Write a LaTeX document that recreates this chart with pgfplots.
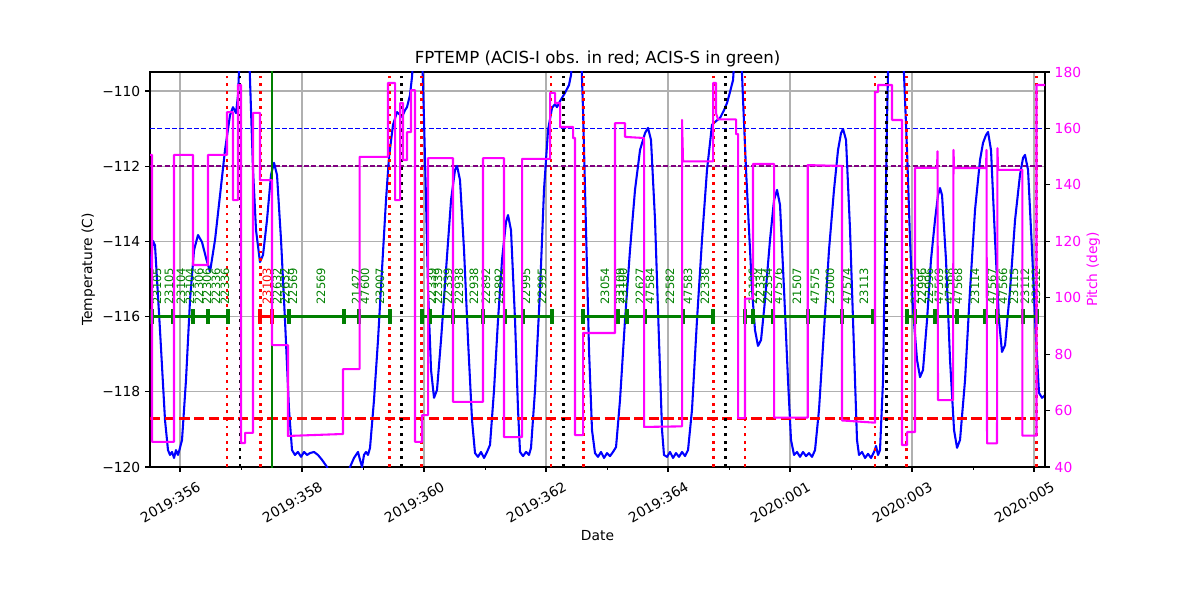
\documentclass[border=0pt]{standalone}
\usepackage{fontspec}
\setmainfont{DejaVu Sans}
\usepackage{pgfplots}
\pgfplotsset{compat=1.18}
\definecolor{mplgreen}{rgb}{0,0.5,0}
\definecolor{mplpurple}{rgb}{0.5,0,0.5}
\definecolor{mplmagenta}{rgb}{1,0,1}
\definecolor{mplblue}{rgb}{0,0,1}
\definecolor{mplred}{rgb}{1,0,0}
\definecolor{gridgray}{HTML}{B0B0B0}

\pgfplotstableread{
d T
355.508 -114.71
355.557 -113.99
355.590 -114.10
355.672 -116.36
355.754 -118.75
355.803 -119.55
355.836 -119.68
355.869 -119.60
355.902 -119.76
355.934 -119.55
355.967 -119.68
356.000 -119.49
356.033 -119.28
356.098 -117.69
356.164 -115.56
356.230 -114.23
356.295 -113.83
356.361 -114.02
356.426 -114.44
356.492 -114.81
356.574 -113.96
356.656 -112.77
356.738 -111.57
356.820 -110.64
356.869 -110.43
356.918 -110.59
356.951 -110.11
356.967 -109.49
356.984 -108.9
357.131 -108.9
357.164 -110.51
357.197 -112.10
357.246 -113.70
357.311 -114.55
357.361 -114.36
357.426 -113.43
357.492 -112.23
357.541 -111.91
357.590 -112.23
357.656 -113.96
357.721 -116.09
357.787 -118.48
357.836 -119.55
357.885 -119.68
357.934 -119.60
357.984 -119.73
358.033 -119.60
358.082 -119.68
358.131 -119.63
358.197 -119.60
358.262 -119.68
358.328 -119.81
358.410 -120.00
358.475 -120.35
358.721 -120.35
358.787 -120.00
358.852 -119.76
358.918 -119.60
358.951 -119.81
358.984 -120.00
359.016 -119.68
359.049 -119.60
359.082 -119.68
359.115 -119.49
359.180 -118.22
359.246 -116.62
359.311 -114.76
359.377 -112.90
359.426 -111.76
359.492 -110.90
359.557 -110.56
359.607 -110.64
359.639 -110.69
359.689 -110.51
359.721 -110.43
359.770 -110.11
359.803 -109.63
359.836 -108.9
359.967 -108.9
360.000 -110.77
360.033 -112.90
360.066 -115.29
360.115 -117.42
360.164 -118.16
360.213 -117.95
360.279 -116.62
360.361 -114.76
360.443 -112.90
360.508 -112.10
360.541 -111.99
360.590 -112.37
360.656 -114.23
360.721 -116.62
360.787 -118.75
360.836 -119.63
360.885 -119.73
360.934 -119.60
360.984 -119.76
361.033 -119.60
361.082 -119.41
361.148 -117.95
361.213 -116.09
361.279 -114.49
361.344 -113.48
361.377 -113.30
361.426 -113.70
361.492 -116.09
361.541 -118.48
361.574 -119.60
361.623 -119.71
361.672 -119.60
361.721 -119.68
361.754 -119.49
361.820 -117.95
361.902 -115.29
361.967 -112.63
362.033 -111.04
362.098 -110.45
362.148 -110.35
362.180 -110.43
362.230 -110.27
362.311 -110.05
362.377 -109.84
362.410 -109.57
362.443 -108.9
362.574 -108.9
362.607 -110.51
362.656 -113.70
362.705 -116.89
362.754 -119.02
362.803 -119.63
362.852 -119.73
362.902 -119.60
362.951 -119.76
363.000 -119.63
363.049 -119.71
363.098 -119.60
363.148 -119.47
363.213 -118.22
363.295 -116.09
363.377 -114.23
363.459 -112.63
363.541 -111.57
363.623 -111.12
363.672 -110.98
363.721 -111.30
363.787 -113.43
363.852 -116.62
363.902 -119.02
363.934 -119.68
363.984 -119.73
364.033 -119.60
364.082 -119.76
364.131 -119.63
364.180 -119.73
364.230 -119.60
364.279 -119.71
364.328 -119.55
364.393 -118.48
364.475 -116.09
364.557 -113.96
364.639 -112.10
364.721 -110.90
364.787 -110.80
364.852 -110.72
364.918 -110.51
364.967 -110.32
365.016 -110.03
365.066 -109.71
365.098 -108.9
365.197 -108.9
365.230 -110.24
365.279 -112.10
365.328 -113.70
365.377 -115.29
365.426 -116.36
365.475 -116.78
365.525 -116.62
365.590 -115.56
365.672 -113.96
365.738 -112.90
365.787 -112.63
365.836 -113.03
365.902 -115.29
365.967 -117.69
366.016 -119.28
366.066 -119.68
366.115 -119.60
366.164 -119.73
366.213 -119.60
366.262 -119.71
366.311 -119.63
366.361 -119.73
366.410 -119.55
366.475 -118.48
366.557 -116.36
366.639 -114.23
366.721 -112.63
366.787 -111.57
366.836 -111.12
366.869 -111.01
366.918 -111.30
366.984 -113.70
367.049 -116.89
367.098 -119.28
367.131 -119.68
367.180 -119.60
367.230 -119.76
367.279 -119.65
367.328 -119.76
367.377 -119.60
367.410 -119.44
367.443 -119.68
367.475 -119.55
367.525 -117.69
367.557 -114.23
367.590 -110.77
367.607 -109.49
367.623 -108.9
367.836 -108.9
367.869 -109.57
367.918 -111.57
367.967 -113.96
368.016 -115.82
368.082 -117.15
368.131 -117.61
368.180 -117.42
368.246 -116.09
368.311 -114.49
368.377 -113.43
368.426 -112.77
368.459 -112.58
368.492 -112.77
368.557 -114.49
368.623 -117.15
368.689 -119.02
368.738 -119.49
368.787 -119.28
368.869 -117.69
368.951 -115.29
369.033 -113.16
369.115 -111.83
369.164 -111.38
369.213 -111.17
369.246 -111.09
369.295 -111.57
369.361 -113.96
369.426 -116.09
369.475 -116.94
369.525 -116.76
369.607 -115.29
369.689 -113.43
369.770 -112.23
369.820 -111.78
369.852 -111.70
369.902 -112.10
369.967 -114.23
370.033 -116.62
370.082 -118.03
370.131 -118.16
370.180 -118.09
}\tempdata

\pgfplotstableread{
d P
355.508 150.6
355.541 150.6
355.541 48.9
355.902 48.9
355.902 150.6
356.213 150.6
356.213 111.6
356.459 111.6
356.459 150.6
356.770 150.6
356.770 165.8
356.869 165.8
356.869 134.6
356.951 134.6
356.951 175.4
357.000 175.4
357.000 48.5
357.066 48.5
357.066 52.1
357.197 52.1
357.197 165.5
357.311 165.5
357.311 141.7
357.508 141.7
357.508 83.2
357.770 83.2
357.770 51.0
358.672 51.7
358.672 74.7
358.943 74.7
358.943 149.9
359.410 149.9
359.410 176.1
359.525 176.1
359.525 134.6
359.607 134.6
359.607 169.0
359.656 169.0
359.656 148.8
359.721 148.8
359.721 158.7
359.787 158.7
359.787 173.6
359.852 173.6
359.852 48.9
359.967 48.9
359.967 58.4
360.066 58.4
360.066 149.5
360.475 149.5
360.475 63.1
360.967 63.1
360.967 149.5
361.311 149.5
361.311 50.6
361.607 50.6
361.607 149.2
362.066 149.2
362.066 172.6
362.148 172.6
362.148 169.0
362.230 169.0
362.230 160.5
362.443 160.5
362.443 156.6
362.475 156.6
362.475 51.3
362.607 51.3
362.607 87.5
363.131 87.5
363.131 161.9
363.295 161.9
363.295 157.0
363.607 156.6
363.607 54.2
364.230 54.4
364.230 163.0
364.246 148.3
364.738 148.3
364.738 176.1
364.787 176.1
364.787 165.4
364.820 163.2
365.115 163.2
365.115 158.0
365.148 158.0
365.148 57.3
365.262 57.3
365.262 99.7
365.393 99.7
365.393 147.4
365.738 147.4
365.738 57.5
366.290 57.5
366.290 147.0
366.852 146.7
366.852 56.5
367.393 55.7
367.393 172.9
367.443 172.9
367.443 175.4
367.672 175.4
367.672 163.0
367.836 163.0
367.836 47.8
367.918 47.8
367.918 52.4
368.049 52.4
368.049 146.0
368.410 146.0
368.418 151.9
368.426 63.7
368.672 63.7
368.680 152.4
368.689 145.9
369.213 145.9
369.221 152.4
369.230 48.4
369.393 48.4
369.401 153.0
369.410 145.3
369.810 145.3
369.810 51.1
370.041 51.1
370.041 175.4
370.180 175.4
}\pitchdata

\begin{document}
\begin{tikzpicture}[font=\fontsize{10}{12}\selectfont,
  obs/.style={rotate=90, anchor=west, inner sep=0pt, text=mplgreen, font=\fontsize{8.33}{10}\selectfont},
  vdot/.style={line width=2.1pt, dash pattern=on 2.1pt off 3.4pt}]
\begin{axis}[
  scale only axis, width=8.95in, height=3.95in,
  at={(0,0)}, anchor=south west, clip mode=individual,
  xmin=355.508, xmax=370.180, ymin=-120, ymax=-109.495,
  xtick={356,358,360,362,364,366,368,370},
  xticklabels={2019:356,2019:358,2019:360,2019:362,2019:364,2020:001,2020:003,2020:005},
  minor xtick={357,359,361,363,365,367,369},
  ytick={-120,-118,-116,-114,-112,-110},
  yticklabels={−120,−118,−116,−114,−112,−110},
  xtick pos=left, ytick pos=left,
  tick align=outside,
  major tick length=3.5pt, minor tick length=2pt,
  major tick style={black, line width=0.8pt},
  minor tick style={black, line width=0.6pt},
  xmajorgrids, ymajorgrids,
  major grid style={gridgray, line width=0.8pt},
  axis line style={line width=0.8pt},
  xticklabel style={xshift=-7pt, yshift=-22pt, rotate=30, anchor=center},
]
\addplot[mplblue, line width=1pt, dash pattern=on 3.7pt off 1.6pt] coordinates {(355.508,-111) (370.180,-111)};
\addplot[mplpurple, line width=1pt, dash pattern=on 3.7pt off 1.6pt] coordinates {(355.508,-112) (370.180,-112)};
\addplot[mplblue, line width=1.5pt, line join=round] table[x=d, y=T] {\tempdata};
\addplot[mplred, line width=2pt, dash pattern=on 7.4pt off 3.2pt] coordinates {(355.508,-118.72) (370.180,-118.72)};
% radiation zone boundaries
\addplot[mplred, vdot] coordinates {(356.770,-121) (356.770,-109)};
\addplot[mplred, vdot] coordinates {(357.322,-121) (357.322,-109)};
\addplot[mplred, vdot] coordinates {(359.431,-121) (359.431,-109)};
\addplot[mplred, vdot] coordinates {(359.962,-121) (359.962,-109)};
\addplot[mplred, vdot] coordinates {(362.082,-121) (362.082,-109)};
\addplot[mplred, vdot] coordinates {(362.607,-121) (362.607,-109)};
\addplot[mplred, vdot] coordinates {(364.743,-121) (364.743,-109)};
\addplot[mplred, vdot] coordinates {(365.262,-121) (365.262,-109)};
\addplot[mplred, vdot] coordinates {(367.393,-121) (367.393,-109)};
\addplot[mplred, vdot] coordinates {(367.913,-121) (367.913,-109)};
\addplot[mplred, vdot] coordinates {(370.044,-121) (370.044,-109)};
% perigee
\addplot[black, vdot] coordinates {(356.984,-121) (356.984,-109)};
\addplot[black, vdot] coordinates {(359.634,-121) (359.634,-109)};
\addplot[black, vdot] coordinates {(362.284,-121) (362.284,-109)};
\addplot[black, vdot] coordinates {(364.946,-121) (364.946,-109)};
\addplot[black, vdot] coordinates {(367.585,-121) (367.585,-109)};
\addplot[mplgreen, line width=2pt] coordinates {(357.508,-121) (357.508,-109)};
% observations
\addplot[mplgreen, line width=2pt] coordinates {(355.541,-116) (356.787,-116)};
\addplot[mplgreen, line width=2pt] coordinates {(357.508,-116) (359.443,-116)};
\addplot[mplgreen, line width=2pt] coordinates {(359.951,-116) (362.082,-116)};
\addplot[mplgreen, line width=2pt] coordinates {(362.607,-116) (364.738,-116)};
\addplot[mplgreen, line width=2pt] coordinates {(365.262,-116) (367.393,-116)};
\addplot[mplgreen, line width=2pt] coordinates {(367.902,-116) (370.066,-116)};
\addplot[mplred, line width=2pt] coordinates {(357.311,-116) (357.508,-116)};
\addplot[only marks, mark=|, mark size=5.4pt, mark options={line width=2.6pt, mplgreen}] coordinates {
(355.541,-116) (355.885,-116) (356.213,-116) (356.459,-116) (356.787,-116)
(357.787,-116) (358.689,-116) (358.934,-116) (359.443,-116) (359.967,-116)
(360.098,-116) (360.475,-116) (360.967,-116) (361.328,-116) (361.623,-116)
(362.098,-116) (362.607,-116) (363.180,-116) (363.328,-116) (363.623,-116)
(364.246,-116) (364.738,-116) (365.262,-116) (365.393,-116) (365.721,-116)
(366.295,-116) (366.852,-116) (367.361,-116) (367.918,-116) (368.049,-116)
(368.377,-116) (368.738,-116) (369.197,-116) (369.393,-116) (369.820,-116)
(370.049,-116)};
\addplot[only marks, mark=|, mark size=5.4pt, mark options={line width=2.6pt, mplred}] coordinates {
(357.311,-116) (357.508,-116)};
% labels
\node[obs] at (axis cs:355.623,-115.69) {23105};
\node[obs] at (axis cs:355.820,-115.69) {23105};
\node[obs] at (axis cs:356.016,-115.69) {23104};
\node[obs] at (axis cs:356.164,-115.69) {23104};
\node[obs] at (axis cs:356.311,-115.69) {22306};
\node[obs] at (axis cs:356.443,-115.69) {22306};
\node[obs] at (axis cs:356.590,-115.69) {22336};
\node[obs] at (axis cs:356.738,-115.69) {22336};
\node[obs, text=mplred] at (axis cs:357.426,-115.69) {23103};
\node[obs] at (axis cs:357.590,-115.69) {22632};
\node[obs] at (axis cs:357.721,-115.69) {22632};
\node[obs] at (axis cs:357.852,-115.69) {22569};
\node[obs] at (axis cs:358.311,-115.69) {22569};
\node[obs] at (axis cs:358.885,-115.69) {21427};
\node[obs] at (axis cs:359.033,-115.69) {47600};
\node[obs] at (axis cs:359.279,-115.69) {23007};
\node[obs] at (axis cs:360.131,-115.69) {22339};
\node[obs] at (axis cs:360.230,-115.69) {22339};
\node[obs] at (axis cs:360.393,-115.69) {22339};
\node[obs] at (axis cs:360.574,-115.69) {22938};
\node[obs] at (axis cs:360.820,-115.69) {22938};
\node[obs] at (axis cs:361.016,-115.69) {22892};
\node[obs] at (axis cs:361.230,-115.69) {22892};
\node[obs] at (axis cs:361.672,-115.69) {22995};
\node[obs] at (axis cs:361.934,-115.69) {22995};
\node[obs] at (axis cs:362.967,-115.69) {23054};
\node[obs] at (axis cs:363.213,-115.69) {23109};
\node[obs] at (axis cs:363.262,-115.69) {23100};
\node[obs] at (axis cs:363.541,-115.69) {22627};
\node[obs] at (axis cs:363.705,-115.69) {47584};
\node[obs] at (axis cs:364.033,-115.69) {22582};
\node[obs] at (axis cs:364.328,-115.69) {47583};
\node[obs] at (axis cs:364.607,-115.69) {22338};
\node[obs] at (axis cs:365.393,-115.69) {22196};
\node[obs] at (axis cs:365.508,-115.69) {22334};
\node[obs] at (axis cs:365.639,-115.69) {22334};
\node[obs] at (axis cs:365.803,-115.69) {47576};
\node[obs] at (axis cs:366.115,-115.69) {21507};
\node[obs] at (axis cs:366.410,-115.69) {47575};
\node[obs] at (axis cs:366.656,-115.69) {23000};
\node[obs] at (axis cs:366.934,-115.69) {47574};
\node[obs] at (axis cs:367.213,-115.69) {23113};
\node[obs] at (axis cs:368.049,-115.69) {23113};
\node[obs] at (axis cs:368.164,-115.69) {22996};
\node[obs] at (axis cs:368.279,-115.69) {22996};
\node[obs] at (axis cs:368.443,-115.69) {47569};
\node[obs] at (axis cs:368.607,-115.69) {47568};
\node[obs] at (axis cs:368.754,-115.69) {47568};
\node[obs] at (axis cs:369.033,-115.69) {23114};
\node[obs] at (axis cs:369.311,-115.69) {47567};
\node[obs] at (axis cs:369.492,-115.69) {47566};
\node[obs] at (axis cs:369.672,-115.69) {23115};
\node[obs] at (axis cs:369.852,-115.69) {23112};
\node[obs] at (axis cs:370.033,-115.69) {23112};
% axis texts
\node[anchor=base, font=\fontsize{12}{14}\selectfont] at (axis description cs:0.5,1.0203) {FPTEMP (ACIS-I obs. in red; ACIS-S in green)};
\node[anchor=base] at (axis description cs:0.5,-0.1873) {Date};
\node[rotate=90, anchor=base] at (axis description cs:-0.0648,0.5) {Temperature (C)};
\end{axis}
\begin{axis}[
  scale only axis, width=8.95in, height=3.95in,
  at={(0,0)}, anchor=south west, clip mode=individual,
  xmin=355.508, xmax=370.180, ymin=40, ymax=180,
  axis x line=none, axis y line*=right,
  ytick={40,60,80,100,120,140,160,180},
  yticklabels={40,60,80,100,120,140,160,180},
  tick align=outside, major tick length=3.5pt,
  major tick style={black, line width=0.8pt},
  axis line style={line width=0.8pt},
  yticklabel style={text=mplmagenta},
]
\addplot[mplmagenta, line width=1.5pt, line join=round] table[x=d, y=P] {\pitchdata};
\node[rotate=90, anchor=base, text=mplmagenta] at (axis description cs:1.0581,0.5) {Pitch (deg)};
\end{axis}
\pgfresetboundingbox
\path[use as bounding box] (-1.5in,-1.33in) rectangle (10.5in,4.67in);
\end{tikzpicture}
\end{document}
